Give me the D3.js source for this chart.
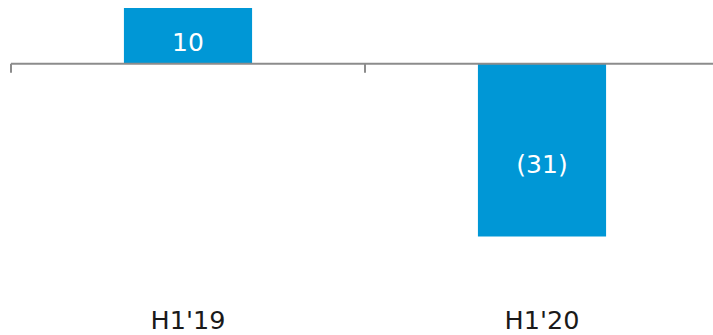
<!DOCTYPE html>
<html><head><meta charset="utf-8">
<script src="https://cdn.jsdelivr.net/npm/d3@7"></script>
<style>html,body{margin:0;padding:0;background:#fff;overflow:hidden}</style>
</head><body>
<svg id="chart" width="713" height="335"></svg>
<script>
const categories = ["H1'19", "H1'20"];
const values = [10, -31];
const valueLabels = ["10", "(31)"];

const svg = d3.select("#chart");
const x = d3.scaleBand().domain(categories).range([11, 719]).paddingInner(0.638).paddingOuter(0.319);
const y = d3.scaleLinear().domain([-31, 10]).range([236.5, 8]);
const y0 = y(0);

svg.selectAll("rect.bar").data(values).enter().append("rect")
  .attr("class", "bar")
  .attr("x", (d, i) => x(categories[i]))
  .attr("width", x.bandwidth())
  .attr("y", d => Math.min(y(d), y0))
  .attr("height", d => Math.abs(y(d) - y0))
  .attr("fill", "#0097D6");

const g = svg.append("g");
g.append("line").attr("x1", 11).attr("x2", 719).attr("y1", y0).attr("y2", y0)
  .attr("stroke", "#8c8c8c").attr("stroke-width", 2);
const gap = (x.step() - x.bandwidth()) / 2;
const bounds = categories.map(c => x(c) - gap);
bounds.push(x(categories[categories.length - 1]) + x.bandwidth() + gap);
g.selectAll("line.tick").data(bounds).enter().append("line")
  .attr("x1", d => d).attr("x2", d => d).attr("y1", y0).attr("y2", y0 + 9)
  .attr("stroke", "#8c8c8c").attr("stroke-width", 2);

svg.selectAll("text.val").data(values).enter().append("text")
  .attr("x", (d, i) => x(categories[i]) + x.bandwidth() / 2)
  .attr("y", d => y(d / 2) + (d >= 0 ? 15 : 22.5))
  .attr("text-anchor", "middle")
  .attr("fill", "#fff")
  .attr("font-family", "Verdana, 'DejaVu Sans', sans-serif")
  .attr("font-size", 25)
  .text((d, i) => valueLabels[i]);

svg.selectAll("text.cat").data(categories).enter().append("text")
  .attr("x", d => x(d) + x.bandwidth() / 2)
  .attr("y", 329)
  .attr("text-anchor", "middle")
  .attr("fill", "#1a1a1a")
  .attr("font-family", "Verdana, 'DejaVu Sans', sans-serif")
  .attr("font-size", 25.5)
  .text(d => d);
</script>
</body></html>
